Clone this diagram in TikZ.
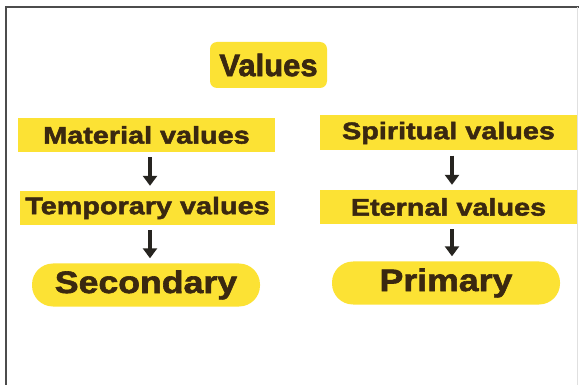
\documentclass[tikz,border=0pt]{standalone}
\usepackage{fontspec}
\usetikzlibrary{arrows.meta}
\newfontfamily\lblsmall{Liberation Sans}[FakeStretch=1.2,BoldFeatures={FakeBold=2}]
\newfontfamily\lblbig{Liberation Sans}[FakeStretch=1.15,BoldFeatures={FakeBold=2}]
\newfontfamily\lbltitle{Liberation Sans}[FakeStretch=1.0,BoldFeatures={FakeBold=2}]
\definecolor{hiyel}{HTML}{FCE234}
\definecolor{txt}{HTML}{3A2810}
\definecolor{arrdark}{HTML}{262420}
\tikzset{
  box/.style={fill=hiyel, draw=none, inner sep=0pt, text=txt,
    font=\lblsmall\bfseries\fontsize{24}{26}\selectfont, minimum height=34pt},
  titlebox/.style={box, rounded corners=7pt, font=\lbltitle\bfseries\fontsize{31}{34}\selectfont,
    minimum width=117pt, minimum height=46pt},
  pill/.style={box, rounded corners=21pt, font=\lblbig\bfseries\fontsize{31}{34}\selectfont,
    minimum width=228pt, minimum height=43pt},
  arr/.style={arrdark, line width=4pt, -{Triangle[width=14pt,length=10pt]},
    shorten <=5pt, shorten >=5pt},
  framedark/.style={draw=black!70, line width=1.6pt},
  framelight/.style={draw=black!12, line width=1pt}
}
\begin{document}
\begin{tikzpicture}[x=1pt,y=-1pt]
\useasboundingbox (0,0) rectangle (579,385);
\fill[white] (0,0) rectangle (579,385);
\draw[framedark] (6,385) -- (6,7) -- (579,7);
\draw[framelight] (577,7) -- (577,385);

\coordinate (lx) at (150,0);
\coordinate (rx) at (452,0);

\node[titlebox] (values) at (268.5,65) {Values};

\node[box, minimum width=257pt] (mat) at (146.5,135) {Material values};
\node[box, minimum width=255pt] (temp) at (147.5,208) {Temporary values};
\node[pill] (sec) at (146,285) {Secondary};

\node[box, minimum width=257pt, minimum height=35pt] (spi) at (448.5,133) {Spiritual values};
\node[box, minimum width=257pt] (ete) at (448.5,207) {Eternal values};
\node[pill] (pri) at (446,283) {Primary};

\draw[arr] (mat.south -| lx) -- (temp.north -| lx);
\draw[arr] (temp.south -| lx) -- (sec.north -| lx);
\draw[arr] (spi.south -| rx) -- (ete.north -| rx);
\draw[arr] (ete.south -| rx) -- (pri.north -| rx);
\end{tikzpicture}
\end{document}
